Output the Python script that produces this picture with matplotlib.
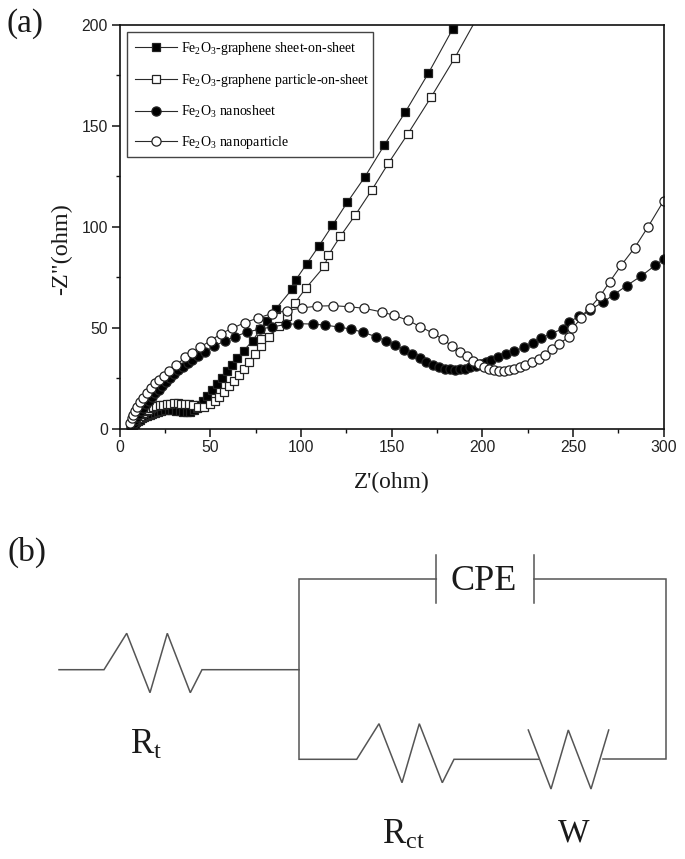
import matplotlib
matplotlib.use("Agg")
import matplotlib.pyplot as plt
from matplotlib.lines import Line2D
from matplotlib.patches import Rectangle

plt.rcParams['font.family'] = ['Liberation Sans', 'DejaVu Sans']
plt.rcParams['mathtext.fontset'] = 'custom'
plt.rcParams['mathtext.rm'] = 'Liberation Serif'
plt.rcParams['mathtext.default'] = 'rm'

# --- data ---
sheet_graphene_x = [6.5,7,7.6,8.3,9,10,11,12.3,13.6,15,16.5,18,19.6,21.2,23,25,27,29,31,33,35,37,39,41,42.5,43.6,46.1,48.3,50.7,53.5,56.3,59,61.8,64.9,68.4,73.3,77.6,81,86.3,95.2,97.2,103.1,109.9,117.3,125.6,135.2,145.9,157.5,170.2,183.6,197.5]
sheet_graphene_y = [0.8,1.3,1.9,2.5,3.1,3.8,4.5,5.1,5.7,6.3,6.9,7.4,7.9,8.3,8.7,9,9.1,9.1,8.9,8.6,8.3,8.1,8.2,9,10.2,11.7,13.9,16.3,19.2,22.1,25.3,28.3,31.6,35.2,38.7,43.5,49.3,53.5,59.5,69.2,73.8,81.6,90.5,100.7,112.2,124.7,140.4,156.8,176,197.9,215]

particle_graphene_x = [6.5,7,7.6,8.3,9,10,11,12,13,14.2,15.5,17,18.5,20,22,24,26,28,30,32,34,36,38,40.6,43.4,46.5,49.8,52.4,54.9,57.5,60.5,63,65.6,68.6,71.3,74.5,77.8,78.1,82.1,87.9,92.1,96.6,102.7,112.9,115.1,121.7,130,138.9,148.2,158.9,171.8,184.7,198]
particle_graphene_y = [1,1.8,2.7,3.6,4.5,5.4,6.3,7.1,7.9,8.6,9.3,10,10.6,11,11.5,11.9,12.2,12.4,12.5,12.5,12.4,12.2,12,11.5,10.9,10.9,12.1,13.9,15.8,18.3,21.1,23.8,26.6,29.7,33.2,36.8,40.7,44.5,45.4,50.6,55.6,62.3,69.6,80.4,86,95.3,105.9,118,131.5,146,164.3,183.5,205]

nanosheet_x = [6.5,7,7.7,8.5,9.4,10.5,11.7,13,14.5,16,17.8,19.6,21.5,23.5,25.5,27.8,30,32.3,34.8,37.5,40,43,47.2,51.9,58.2,63.7,70,77.4,84,91.7,98.3,106.5,113.2,121.1,127.6,134,141.5,146.7,152,157,161.3,165.7,169,172.6,175.9,179.2,182.3,185.1,187.8,190.6,193.4,196.5,199.5,202.3,204.8,208.5,212.9,217.5,222.8,228,232.2,237.7,244.6,247.7,253.4,259.3,266.3,272.6,279.6,287.6,295.4,300]
nanosheet_y = [1,1.9,3,4.2,5.6,7,8.6,10.2,12,13.8,15.6,17.4,19.2,21,23,25,27,28.8,30.6,32.4,34.2,36,38.2,40.7,43.6,45.6,47.8,49.3,50.4,51.6,52,51.8,51.3,50.3,49.3,47.8,45.5,43.6,41.5,39,37,34.9,33.1,31.6,30.4,29.6,29.3,29.1,29.3,29.6,30.3,31.1,32.1,33.2,34.1,35.7,36.9,38.4,40.2,42.2,44.7,47,49.5,52.8,55.6,58.9,62.5,66.4,70.8,75.6,80.9,84]

nanoparticle_x = [5.9,6.6,7.5,8.4,9.7,11.2,13,14.9,17.1,19.5,21.8,24.4,27.4,31.2,36.2,40,44.4,50.2,56,62,69,76.2,84,92.1,100.6,109,117.9,126.5,134.9,144.5,151.5,159.1,165.8,172.7,178.3,183.2,187.7,191.7,194.9,198.2,200.9,203.7,206.4,209.2,212,214.7,217.5,220.6,223.8,227.4,231.1,234.8,238.3,242.2,247.7,249.7,254.5,259.5,265,270.3,276.6,284.1,291.5,300]
nanoparticle_y = [2.9,5.1,6.8,8.9,10.9,13,15.4,17.5,20.2,22.5,24.1,26.1,28.4,31.4,35.4,37.7,40.4,43.6,47.1,49.7,52.5,54.8,57,58.4,59.8,60.7,60.9,60.4,59.6,57.8,56.1,53.6,50.5,47.3,44.2,41,38.2,35.9,33.7,31.8,30.4,29.4,28.8,28.5,28.5,28.8,29.4,30.3,31.4,32.8,34.4,36.4,39.2,42,45.3,49.8,54.6,59.9,65.7,72.8,80.9,89.7,100.1,112.8]

series_labels = ['Fe$_2$O$_3$-graphene sheet-on-sheet',
                 'Fe$_2$O$_3$-graphene particle-on-sheet',
                 'Fe$_2$O$_3$ nanosheet',
                 'Fe$_2$O$_3$ nanoparticle']
x_ticks = [0, 50, 100, 150, 200, 250, 300]
y_ticks = [0, 50, 100, 150, 200]
x_title = "Z'(ohm)"
y_title = '-Z"(ohm)'

# --- circuit schematic, traced in image pixels ---
wire_paths = [
    [(59,669.7),(104,669.7),(126.7,633.3),(150,692.7),(167.3,633.3),(190.3,692.7),(202,669.7),(299,669.7)],
    [(436.3,579),(299,579),(299,759.3),(356.7,759.3),(379,723.7),(402,782.7),(419.3,723.7),(442.3,782.7),(454,759.3),(538.3,759.3)],
    [(436.3,555),(436.3,602.7)],
    [(533.7,555),(533.7,602.7)],
    [(533.7,579),(666,579),(666,759.3),(603.3,759.3)],
    [(528.3,730),(551,789),(568.3,730),(591,789),(608.7,730)],
]

W, H = 685, 859
fig = plt.figure(figsize=(W/100, H/100), dpi=100, facecolor='white')
L, R, T, B = 119.7, 663.6, 25, 428.6
ax = fig.add_axes([L/W, 1-B/H, (R-L)/W, (B-T)/H])

styles = [('s','#000000'), ('s','white'), ('o','#000000'), ('o','white')]
xs = [sheet_graphene_x, particle_graphene_x, nanosheet_x, nanoparticle_x]
ys = [sheet_graphene_y, particle_graphene_y, nanosheet_y, nanoparticle_y]
handles = []
for x, y, (m, fc), lab in zip(xs, ys, styles, series_labels):
    ms = 6.0 if m == 's' else 6.6
    ax.plot(x, y, '-', color='#2a2a2a', lw=0.8, marker=m, ms=ms, mfc=fc, mec='#222222', mew=0.9)
    handles.append(Line2D([], [], color='#2a2a2a', lw=0.8, marker=m, ms=ms, mfc=fc, mec='#222222', mew=0.9, label=lab))

ax.set_xlim(0, 300)
ax.set_ylim(0, 200)
ax.set_xticks(x_ticks)
ax.set_yticks(y_ticks)
ax.set_xticks([25,75,125,175,225,275], minor=True)
ax.set_yticks([25,75,125,175], minor=True)
ax.tick_params(which='major', direction='out', length=5.5, width=1.1, labelsize=11.3, pad=3, color='#111111', labelcolor='#222222')
ax.tick_params(which='minor', direction='out', length=3, width=1.0, color='#111111')
for s in ax.spines.values():
    s.set_linewidth(1.2)
    s.set_color('#111111')

def ax_frac(px, py):
    return (px-L)/(R-L), 1-(py-T)/(B-T)

x0, y1 = ax_frac(127, 157)
x1, y0 = ax_frac(373, 32)
ax.add_patch(Rectangle((x0, y1), x1-x0, y0-y1, transform=ax.transAxes, facecolor='white',
                       edgecolor='#444444', lw=1.0, zorder=4))
leg = ax.legend(handles=handles, loc='upper left', bbox_to_anchor=ax_frac(135, 40), borderaxespad=0,
                frameon=False, prop={'family':'Liberation Serif','size':10},
                handlelength=3.0, handletextpad=0.31, labelspacing=1.06,
                borderpad=0, numpoints=1)
leg.set_zorder(5)

serif = 'Liberation Serif'
txt = '#1a1a1a'
fig.text(392/W, 1-482/H, x_title, family=serif, fontsize=16.8, color=txt, ha='center', va='center')
fig.text(62/W, 1-249/H, y_title, family=serif, fontsize=17.5, color=txt, ha='center', va='center', rotation=90)
fig.text(25/W, 1-24/H, '(a)', family=serif, fontsize=24, color=txt, ha='center', va='center')
fig.text(27/W, 1-552/H, '(b)', family=serif, fontsize=24, color=txt, ha='center', va='center')

ov = fig.add_axes([0, 0, 1, 1], facecolor='none')
ov.set_xlim(0, W)
ov.set_ylim(H, 0)
ov.axis('off')
for path in wire_paths:
    ov.plot([p[0] for p in path], [p[1] for p in path], color='#555555', lw=1.1, solid_joinstyle='miter')
ov.text(484, 582, 'CPE', family=serif, fontsize=26, color=txt, ha='center', va='center')
ov.text(146, 745, 'R$_{\\mathrm{t}}$', family=serif, fontsize=25, color=txt, ha='center', va='center')
ov.text(403, 835, 'R$_{\\mathrm{ct}}$', family=serif, fontsize=25, color=txt, ha='center', va='center')
ov.text(574, 833, 'W', family=serif, fontsize=24, color=txt, ha='center', va='center')

fig.savefig('out.png', dpi=100, facecolor='white')
